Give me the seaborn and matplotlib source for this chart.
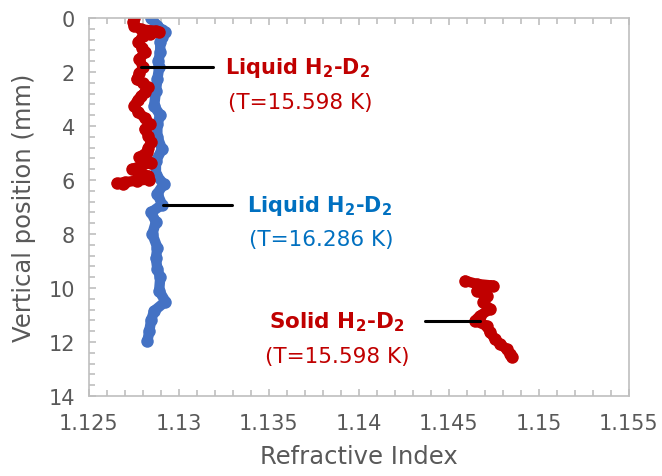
import matplotlib
matplotlib.use("Agg")
import matplotlib.pyplot as plt
import numpy as np
import pandas as pd
import seaborn as sns
from matplotlib.ticker import MultipleLocator, FuncFormatter

# liquid H2-D2 at 15.598 K (red)
liq_red_y = [0.0, 0.15, 0.28, 0.42, 0.47, 0.53, 0.58, 0.65, 0.9, 1.1, 1.27, 1.52, 1.83, 2.05,
             2.26, 2.42, 2.57, 2.75, 2.88, 3.05, 3.25, 3.49, 3.7, 3.93, 4.11, 4.36, 4.6,
             4.8, 4.97, 5.16, 5.35, 5.5, 5.59, 5.72, 5.84, 5.98, 6.02, 6.08, 6.12, 6.15]
liq_red_x = [1.12750, 1.12745, 1.12750, 1.12790, 1.12870, 1.12890, 1.12840, 1.12800, 1.12775,
             1.12795, 1.12810, 1.12780, 1.12800, 1.12780, 1.12765, 1.12800, 1.12830, 1.12810,
             1.12790, 1.12770, 1.12750, 1.12775, 1.12810, 1.12840, 1.12810, 1.12830, 1.12845,
             1.12830, 1.12820, 1.12780, 1.12845, 1.12780, 1.12740, 1.12770, 1.12830, 1.12835,
             1.12765, 1.12700, 1.12655, 1.12690]

# liquid H2-D2 at 16.286 K (blue)
liq_blue_y = [0.0, 0.28, 0.45, 0.53, 0.7, 0.9, 1.27, 1.6, 1.83, 2.26, 2.7, 3.25, 3.6, 3.93,
              4.4, 4.85, 5.3, 5.8, 6.15, 6.5, 6.91, 7.2, 7.55, 8.0, 8.5, 8.9, 9.3, 9.6,
              10.1, 10.5, 10.85, 11.2, 11.6, 11.95]
liq_blue_x = [1.12845, 1.12880, 1.12905, 1.12925, 1.12905, 1.12896, 1.12896, 1.12885, 1.12890,
              1.12880, 1.12872, 1.12862, 1.12896, 1.12880, 1.12880, 1.12906, 1.12872, 1.12872,
              1.12915, 1.12880, 1.12906, 1.12845, 1.12872, 1.12852, 1.12880, 1.12872, 1.12880,
              1.12896, 1.12890, 1.12925, 1.12862, 1.12845, 1.12835, 1.12825]

# solid H2-D2 at 15.598 K (red)
sol_y = [9.73, 9.85, 9.91, 10.1, 10.29, 10.53, 10.78, 11.03, 11.21, 11.4, 11.64, 11.89,
         12.07, 12.26, 12.44, 12.57]
sol_x = [1.14589, 1.14654, 1.14745, 1.14654, 1.14709, 1.14690, 1.14728, 1.14672, 1.14644,
         1.14709, 1.14728, 1.14756, 1.14783, 1.14820, 1.14839, 1.14848]

# label leader lines: (x start, x end, y)
leaders = [(1.12790, 1.13189, 1.82), (1.12913, 1.13294, 6.91), (1.14367, 1.14672, 11.22)]

red = "#C00000"
blue = "#4472C4"
blue_txt = "#0070C0"
grey = "#595959"

sns.set_style("white")
plt.rcParams["font.family"] = ["DejaVu Sans"]
plt.rcParams["mathtext.default"] = "regular"

fig = plt.figure(figsize=(6.62, 4.77), dpi=100)
ax = fig.add_axes([0.1344, 0.1677, 0.8156, 0.7923])

series = [(liq_blue_x, liq_blue_y, blue), (liq_red_x, liq_red_y, red), (sol_x, sol_y, red)]
for xs, ys, c in series:
    df = pd.DataFrame({"n": xs, "pos": ys})
    sns.lineplot(data=df, x="n", y="pos", sort=False, estimator=None, color=c,
                 linewidth=7.5, marker="o", markersize=9, markeredgewidth=0,
                 solid_capstyle="round", solid_joinstyle="round", ax=ax)

for x0, x1, y in leaders:
    ax.plot([x0, x1], [y, y], color="black", linewidth=2.2)

ax.text(1.13256, 1.81, "Liquid H$_2$-D$_2$", color=red, fontsize=15, fontweight="bold",
        ha="left", va="center")
ax.text(1.13272, 3.12, "(T=15.598 K)", color=red, fontsize=15.5, ha="left", va="center")
ax.text(1.13376, 6.93, "Liquid H$_2$-D$_2$", color=blue_txt, fontsize=15, fontweight="bold",
        ha="left", va="center")
ax.text(1.13390, 8.19, "(T=16.286 K)", color=blue_txt, fontsize=15.5, ha="left", va="center")
ax.text(1.13500, 11.22, "Solid H$_2$-D$_2$", color=red, fontsize=15.5, fontweight="bold",
        ha="left", va="center")
ax.text(1.13478, 12.52, "(T=15.598 K)", color=red, fontsize=15.5, ha="left", va="center")

ax.set_xlim(1.125, 1.155)
ax.set_ylim(14, 0)
ax.xaxis.set_major_locator(MultipleLocator(0.005))
ax.xaxis.set_minor_locator(MultipleLocator(0.001))
ax.yaxis.set_major_locator(MultipleLocator(2))
ax.yaxis.set_minor_locator(MultipleLocator(0.4))
ax.xaxis.set_major_formatter(FuncFormatter(lambda v, p: "%g" % round(v, 4)))

for s in ax.spines.values():
    s.set_color("#BFBFBF")
    s.set_linewidth(1.2)

ax.tick_params(axis="x", which="both", direction="in", top=True, bottom=True,
               color="#BFBFBF", labelcolor=grey, labelsize=15, pad=12)
ax.tick_params(axis="y", which="both", direction="in", left=True, right=False,
               color="#BFBFBF", labelcolor=grey, labelsize=15, pad=10)
ax.tick_params(which="major", length=5, width=1.2)
ax.tick_params(which="minor", length=4, width=1.2)

ax.set_xlabel("Refractive Index", fontsize=17.5, color=grey, labelpad=8)
ax.set_ylabel("Vertical position (mm)", fontsize=17.5, color=grey, labelpad=9)

fig.savefig("out.png", dpi=100)
